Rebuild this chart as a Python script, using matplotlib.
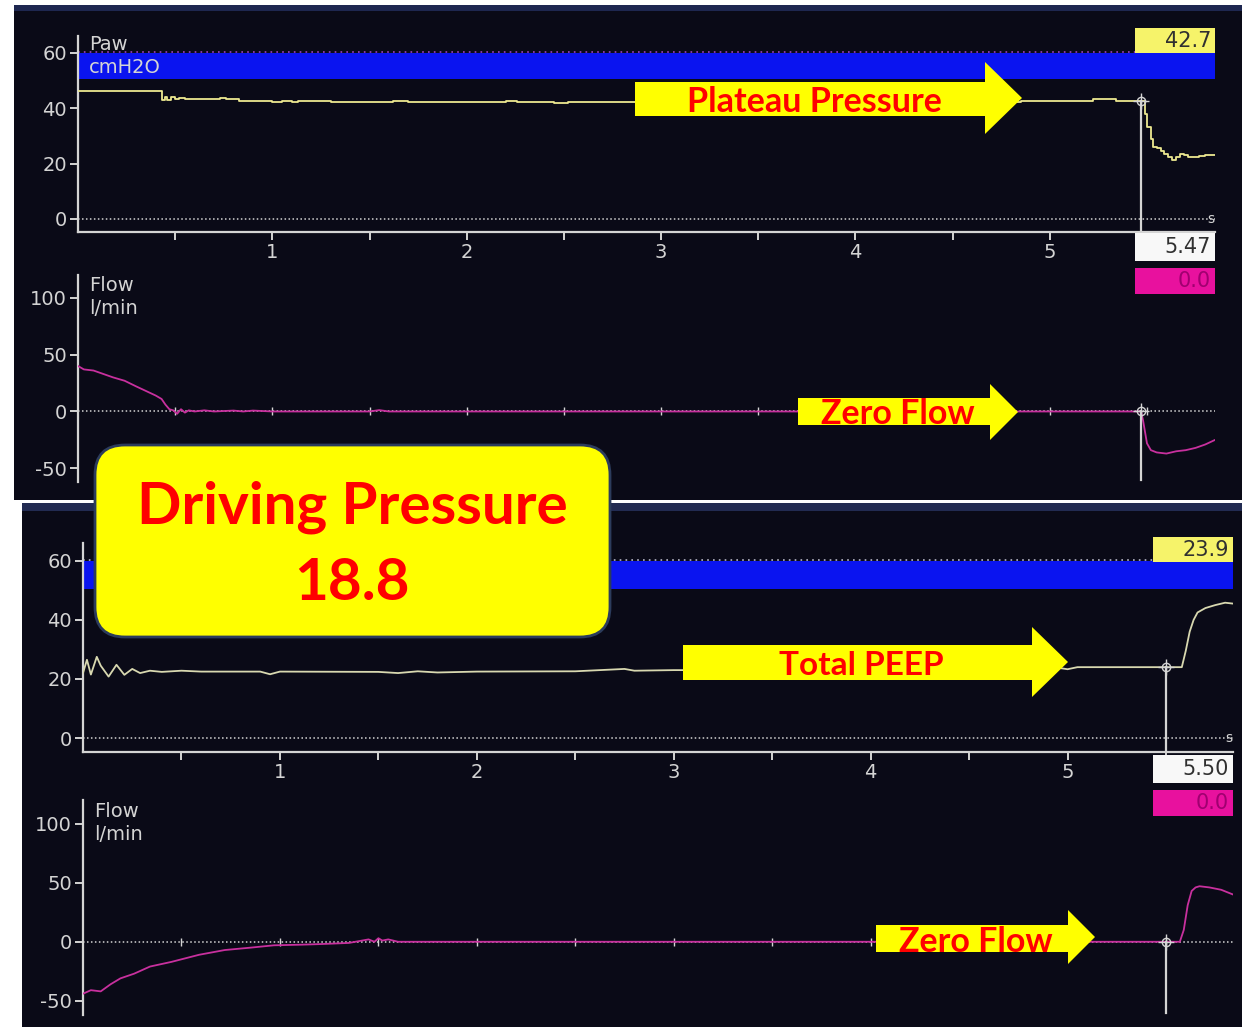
import matplotlib
matplotlib.use("Agg")
import matplotlib.pyplot as plt
import numpy as np
from matplotlib.patches import Rectangle, Polygon, FancyBboxPatch
from matplotlib.transforms import IdentityTransform

plt.rcParams["axes.unicode_minus"] = False

W, H = 1242, 1027
BG = "#0a0a17"
AX = "#d4d4d4"
PAW1 = "#ece890"
PAW2 = "#d8d8b0"
FLOW = "#c8309e"

# upper screen: pressure (cmH2O) and flow (l/min) against time (s)
paw1_t = [0.00, 0.43, 0.45, 0.46, 0.48, 0.50, 0.52, 0.55, 0.73, 0.76,
          0.83, 1.00, 1.05, 1.10, 1.13, 1.30, 1.62, 1.70, 2.20, 2.26,
          2.45, 2.52, 2.95, 3.02, 3.30, 3.38, 3.75, 3.82, 4.40, 4.48,
          4.85, 5.22, 5.34, 5.47, 5.49, 5.50, 5.52, 5.53, 5.55, 5.57,
          5.59, 5.61, 5.63, 5.65, 5.67, 5.69, 5.71, 5.74, 5.77, 5.80, 5.85]
paw1_v = [46.0, 43.0, 44.0, 42.8, 43.9, 43.2, 43.7, 43.3, 43.7, 43.3,
          42.7, 42.3, 42.7, 42.3, 42.7, 42.3, 42.7, 42.3, 42.7, 42.3,
          42.0, 42.3, 42.7, 42.3, 42.7, 42.3, 42.7, 42.3, 42.7, 42.3,
          42.7, 43.2, 42.7, 42.7, 38.0, 33.0, 29.0, 26.0, 25.5, 24.5,
          23.5, 22.5, 21.3, 22.2, 23.5, 23.0, 22.2, 22.3, 22.8, 23.2, 23.2]
flow1_t = [0.00, 0.03, 0.08, 0.13, 0.18, 0.24, 0.30, 0.35, 0.40, 0.43,
           0.45, 0.47, 0.49, 0.51, 0.53, 0.55, 0.57, 0.60, 0.65, 0.70,
           0.80, 0.85, 0.90, 1.00, 1.50, 1.55, 1.60, 5.47, 5.48, 5.50,
           5.52, 5.55, 5.60, 5.65, 5.70, 5.75, 5.80, 5.85]
flow1_v = [40, 37, 36, 33, 30, 27, 22, 18, 14, 11,
           6, 2, 1, -2, 2, -1, 1, 0, 1, 0,
           0.8, 0, 0.8, 0, 0, 1.2, 0, 0, -8, -28,
           -34, -36, -37, -35, -34, -32, -29, -25]

# lower screen
paw2_t = [0.00, 0.02, 0.04, 0.07, 0.09, 0.13, 0.17, 0.21, 0.25, 0.29,
          0.34, 0.40, 0.50, 0.60, 0.70, 0.90, 0.95, 1.00, 1.50, 1.60,
          1.70, 1.80, 2.00, 2.50, 2.75, 2.80, 3.00, 3.50, 4.00, 4.50,
          4.95, 5.00, 5.05, 5.20, 5.58, 5.60, 5.62, 5.64, 5.66, 5.70,
          5.75, 5.80, 5.84]
paw2_v = [22.0, 26.5, 21.5, 27.5, 24.5, 20.8, 24.8, 21.4, 23.4, 22.0,
          22.8, 22.4, 22.8, 22.5, 22.5, 22.5, 21.6, 22.5, 22.4, 22.0,
          22.6, 22.2, 22.5, 22.6, 23.4, 22.8, 23.0, 23.0, 23.2, 23.3,
          23.8, 23.3, 24.0, 24.0, 24.0, 29.5, 36.0, 40.0, 42.5, 44.0,
          45.0, 45.8, 45.5]
flow2_t = [0.00, 0.04, 0.09, 0.14, 0.19, 0.26, 0.34, 0.45, 0.59, 0.72,
           0.85, 0.97, 1.10, 1.20, 1.35, 1.45, 1.48, 1.50, 1.52, 1.55,
           1.60, 2.00, 5.57, 5.59, 5.61, 5.63, 5.65, 5.67, 5.72, 5.78, 5.84]
flow2_v = [-44, -41, -42, -36, -31, -27, -21, -17, -11, -7,
           -5, -3, -2.5, -2, -1, 2, 0, 3, 1, 2,
           0, 0, 0, 10, 31, 43, 46, 47, 46, 44, 40]

cursor1 = (5.47, 42.7, 0.0)
cursor2 = (5.50, 23.9, 0.0)
paw_ticks = [0, 20, 40, 60]
flow_ticks = [-50, 0, 50, 100]
time_ticks = [1, 2, 3, 4, 5]

fig = plt.figure(figsize=(W / 100, H / 100), dpi=100)
fig.patch.set_facecolor("white")
PX = IdentityTransform()


def frac(x0, y0, x1, y1):
    # pixel box (top-left origin) -> figure fractions
    return [x0 / W, 1 - y1 / H, (x1 - x0) / W, (y1 - y0) / H]


def rect(x0, y0, x1, y1, color, z=-5, **kw):
    fig.add_artist(Rectangle((x0, H - y1), x1 - x0, y1 - y0, transform=PX,
                             facecolor=color, edgecolor="none", zorder=z, **kw))


def ptext(x, y, s, **kw):
    fig.text(x, H - y, s, transform=PX, **kw)


# screen backgrounds
rect(14, 5, 1242, 500, BG)
rect(14, 5, 1242, 11, "#1e2750")
rect(22, 503, 1242, 1027, BG)
rect(22, 503, 1242, 511, "#222b52")


def style(ax, yticks, xmax, bottom=True):
    ax.set_facecolor("none")
    for s in ["top", "right"]:
        ax.spines[s].set_visible(False)
    ax.spines["left"].set_color(AX)
    ax.spines["left"].set_linewidth(1.6)
    ax.spines["bottom"].set_color(AX)
    ax.spines["bottom"].set_linewidth(1.6)
    ax.spines["bottom"].set_visible(bottom)
    ax.set_xlim(0, xmax)
    ax.set_yticks(yticks)
    ax.tick_params(axis="y", colors=AX, labelsize=14, length=6, width=1.4, pad=2)
    if bottom:
        ax.set_xticks(time_ticks)
        ax.set_xticks(np.arange(0.5, xmax, 1.0), minor=True)
        ax.tick_params(axis="x", which="both", colors=AX, labelsize=14,
                       length=6, width=1.4, pad=2)
    else:
        ax.set_xticks([])
    ax.axhline(0, color=AX, lw=1.1, ls=(0, (1, 1.6)), zorder=1)


def paw_axes(box, xmax, t, v, col, cur, dotted, step):
    ax = fig.add_axes(frac(*box))
    style(ax, paw_ticks, xmax)
    ax.set_ylim(-4.7, 66)
    ax.axhspan(50.5, 60, color="#0a14f0", zorder=1, lw=0)
    ax.plot([0, cur[0] - 0.03], [60.3, 60.3], color=dotted, lw=1.2,
            ls=(0, (1, 2.5)), zorder=2)
    ax.text(0.055, 60.8, "Paw", color=AX, fontsize=14)
    ax.text(0.055, 52.6, "cmH2O", color=AX, fontsize=14, zorder=3)
    ax.plot(t, v, color=col, lw=1.3, zorder=3,
            drawstyle="steps-post" if step else "default")
    ax.plot([cur[0], cur[0]], [cur[1], -4.7], color=AX, lw=1.6, zorder=4)
    ax.plot(cur[0], cur[1], marker="o", mfc="none", mec=AX, ms=6, zorder=5)
    ax.plot(cur[0], cur[1], marker="+", color=AX, ms=11, zorder=5)
    ax.text(xmax - 0.04, 0, "s", color=AX, fontsize=10, va="center")
    return ax


def flow_axes(box, xmax, t, v, cur):
    ax = fig.add_axes(frac(*box))
    style(ax, flow_ticks, xmax, bottom=False)
    ax.set_ylim(-62, 120)
    marks = np.arange(0.5, xmax, 0.5)
    ax.plot(marks, np.zeros(len(marks)), ls="none", marker="|", ms=6,
            color=AX, zorder=2)
    ax.text(0.055, 106, "Flow", color=AX, fontsize=14)
    ax.text(0.055, 86, "l/min", color=AX, fontsize=14)
    ax.plot(t, v, color=FLOW, lw=1.3, zorder=3)
    ax.plot([cur[0], cur[0]], [0, -60], color=AX, lw=1.6, zorder=4)
    ax.plot(cur[0], 0, marker="o", mfc="none", mec=AX, ms=6, zorder=5)
    ax.plot(cur[0], 0, marker="+", color=AX, ms=11, zorder=5)
    return ax


paw_axes((78, 36, 1215, 232), 5.85, paw1_t, paw1_v, PAW1, cursor1, "#a040c0", True)
flow_axes((78, 275, 1215, 482), 5.85, flow1_t, flow1_v, cursor1)
paw_axes((83, 543, 1233, 752), 5.84, paw2_t, paw2_v, PAW2, cursor2, "#b8b8c8", False)
flow_axes((83, 800, 1233, 1015), 5.84, flow2_t, flow2_v, cursor2)


def readouts(x0, y_paw, y_time, y_flow, cur):
    x1 = x0 + 80
    rect(x0, y_paw, x1, y_paw + 25, "#f6f36a", z=6)
    ptext(x1 - 4, y_paw + 13, f"{cur[1]:.1f}", color="#303030", fontsize=15,
          ha="right", va="center", zorder=7)
    rect(x0, y_time, x1, y_time + 28, "#f8f8f8", z=6)
    ptext(x1 - 4, y_time + 14, f"{cur[0]:.2f}", color="#303030", fontsize=15,
          ha="right", va="center", zorder=7)
    rect(x0, y_flow, x1, y_flow + 26, "#e8119e", z=6)
    ptext(x1 - 4, y_flow + 13, f"{cur[2]:.1f}", color="#a00070", fontsize=15,
          ha="right", va="center", zorder=7)


readouts(1135, 28, 233, 268, cursor1)
readouts(1153, 537, 755, 790, cursor2)


def arrow(x0, xh, x1, by0, by1, hy0, hy1, label, size):
    mid = (hy0 + hy1) / 2
    pts = [(x0, by0), (xh, by0), (xh, hy0), (x1, mid), (xh, hy1), (xh, by1), (x0, by1)]
    fig.add_artist(Polygon([(x, H - y) for x, y in pts], closed=True, transform=PX,
                           facecolor="#ffff00", edgecolor="none", zorder=8))
    ptext((x0 + xh) / 2 + 4, (by0 + by1) / 2 + 3, label, color="#ff0000",
          fontsize=size, fontweight="bold", family="Lato",
          ha="center", va="center", zorder=9)


arrow(635, 985, 1022, 82, 116, 62, 134, "Plateau Pressure", 24.5)
arrow(798, 990, 1018, 398, 425, 384, 440, "Zero Flow", 24.5)
arrow(683, 1032, 1068, 645, 680, 627, 697, "Total PEEP", 24)
arrow(876, 1068, 1095, 925, 952, 910, 964, "Zero Flow", 24.5)

fig.add_artist(FancyBboxPatch((95, H - 637), 515, 192, transform=PX,
                              boxstyle="round,pad=0,rounding_size=30",
                              facecolor="#ffff00", edgecolor="#2c3c5c", lw=2,
                              zorder=10))
ptext(352, 507, "Driving Pressure", color="#ff0000", fontsize=42,
      fontweight="bold", family="Lato", ha="center", va="center", zorder=11)
ptext(352, 583, "18.8", color="#ff0000", fontsize=42,
      fontweight="bold", family="Lato", ha="center", va="center", zorder=11)

fig.savefig("out.png", dpi=100)
